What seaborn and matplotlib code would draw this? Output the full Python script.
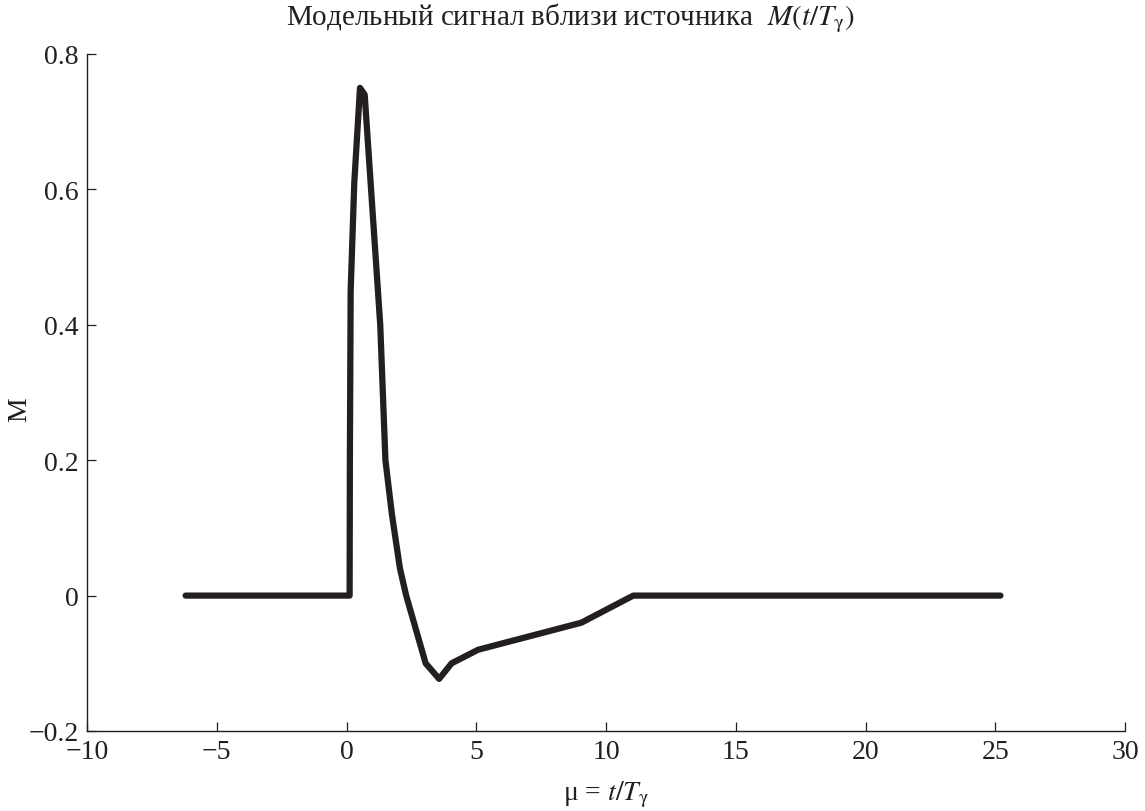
import matplotlib
matplotlib.use("Agg")
import matplotlib.pyplot as plt
import seaborn as sns
import pandas as pd

# Data
mu = [-6.2, 0.12, 0.13, 0.16, 0.3, 0.52, 0.7, 1.3, 1.5, 1.75, 2.06, 2.3, 3.05, 3.57, 4.05, 5.07, 9.05, 11.05, 25.2]
m_vals = [0.0, 0.0, 0.2, 0.45, 0.61, 0.75, 0.74, 0.40, 0.20, 0.12, 0.04, 0.0, -0.10, -0.123, -0.10, -0.08, -0.04, 0.0, 0.0]

x_ticks = [-10, -5, 0, 5, 10, 15, 20, 25, 30]
y_ticks = [-0.2, 0, 0.2, 0.4, 0.6, 0.8]
y_tick_labels = ["\u22120.2", "0", "0.2", "0.4", "0.6", "0.8"]
x_tick_labels = ["\u221210", "\u22125", "0", "5", "10", "15", "20", "25", "30"]

sns.set_style("ticks")
plt.rcParams["font.family"] = ["Liberation Serif", "DejaVu Serif"]
plt.rcParams["mathtext.fontset"] = "stix"

df = pd.DataFrame({"mu": mu, "M": m_vals})

fig = plt.figure(figsize=(11.45, 8.12), dpi=100)
ax = fig.add_axes([87 / 1145, 1 - 732 / 812, (1125 - 87) / 1145, (732 - 55) / 812])

sns.lineplot(data=df, x="mu", y="M", ax=ax, sort=False, estimator=None,
             color="#231f20", linewidth=4.5, solid_joinstyle="round")

ax.set_xlim(-10, 30)
ax.set_ylim(-0.2, 0.8)
ax.set_xticks(x_ticks)
ax.set_xticklabels(x_tick_labels)
ax.set_yticks(y_ticks)
ax.set_yticklabels(y_tick_labels)
ax.tick_params(direction="in", length=6.5, width=0.9, labelsize=20, colors="#231f20", pad=6)
for s in ["top", "right"]:
    ax.spines[s].set_visible(False)
for s in ["left", "bottom"]:
    ax.spines[s].set_linewidth(1.0)
    ax.spines[s].set_color("#231f20")

ax.set_xlabel("\u03bc = $t/T_{\\mathrm{\u03b3}}$", fontsize=20, color="#231f20", labelpad=10)
ax.set_ylabel("M", fontsize=20, color="#231f20")
ax.yaxis.set_label_coords((32 - 87) / 1038, (732 - 410) / 677)

fig.text(570 / 1145, 1 - 18 / 812, "Модельный сигнал вблизи источника  $M(t/T_{\\mathrm{\u03b3}})$",
         ha="center", va="center", fontsize=21, color="#231f20")

fig.savefig("out.png", dpi=100)
